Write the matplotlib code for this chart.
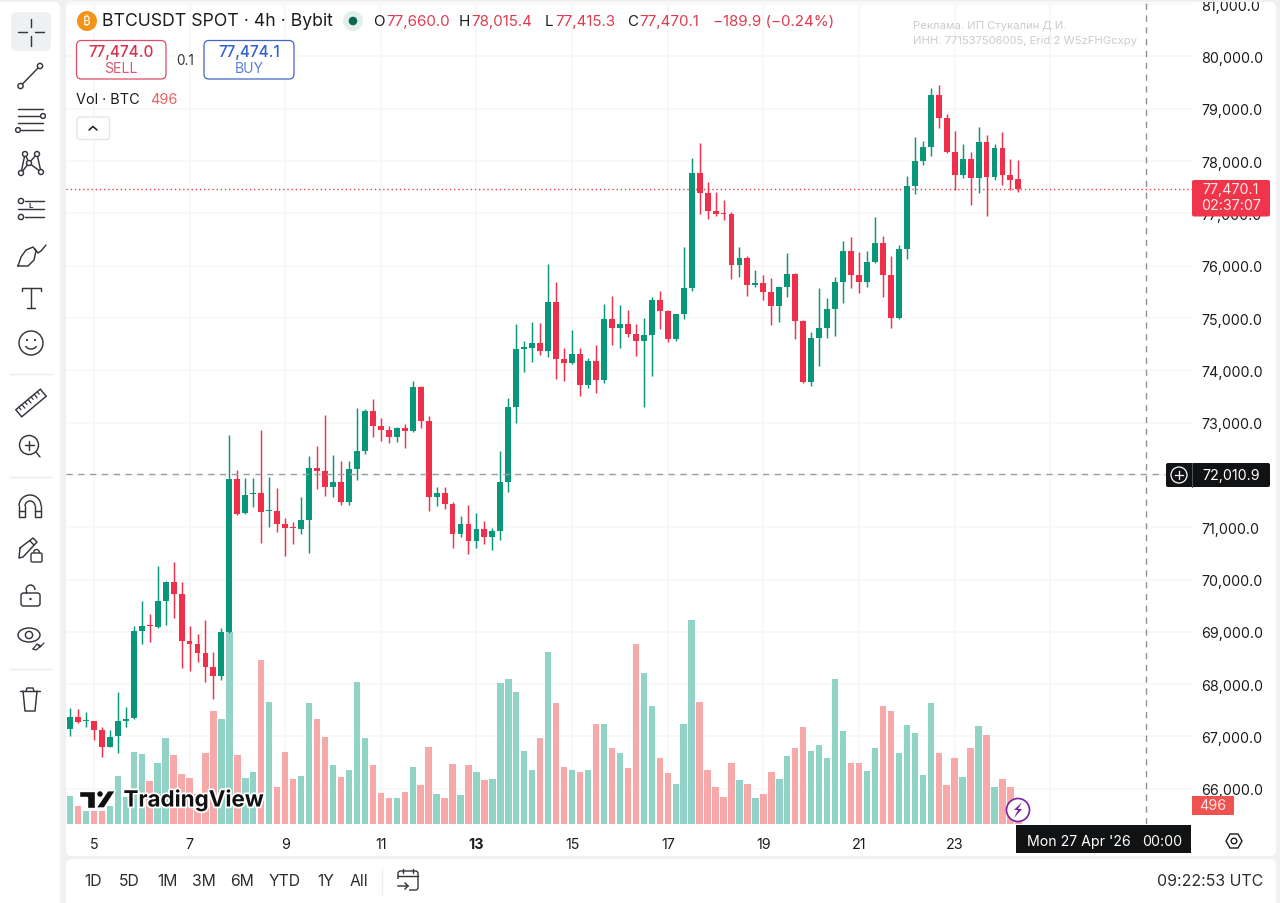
import numpy as np
import matplotlib
matplotlib.use('Agg')
import matplotlib.pyplot as plt
import matplotlib.patheffects as pe
from matplotlib.patches import Circle, Rectangle, FancyBboxPatch, Polygon, Arc, Ellipse

plt.rcParams['font.family'] = ['Inter', 'DejaVu Sans']

# 4h candles, BTCUSDT spot, oldest first
opens = [67144, 67373, 67290, 67290, 67131, 66806, 67004, 67290, 67348, 69023, 69125, 69094,
         69597, 69954, 69724, 68832, 68762, 68597, 68323, 68150, 68992, 71923, 71266, 71630,
         71661, 71305, 71305, 71056, 70999, 70967, 71133, 72127, 72069, 71770, 71859, 71477,
         72120, 72452, 73222, 72936, 72859, 72732, 72904, 72846, 73675, 73038, 71585, 71661,
         71445, 70871, 71062, 70737, 70967, 70807, 70922, 71865, 73299, 74401, 74433, 74529,
         74369, 75306, 74210, 74134, 74318, 73726, 74185, 73821, 74987, 74803, 74879, 74688,
         74560, 74682, 75344, 75134, 74599, 75077, 75574, 77766, 77390, 77045, 77001, 76982,
         76020, 76141, 75625, 75676, 75497, 75236, 75586, 75841, 74949, 73770, 74618, 74809,
         75178, 75688, 76274, 75822, 75695, 76064, 76427, 75822, 75000, 76313, 77518, 77996,
         78276, 79264, 78831, 78168, 77741, 78040, 77677, 78372, 77703, 78251, 77735, 77660.0]
highs = [67539, 67526, 67462, 67303, 67176, 67125, 67845, 67558, 69119, 69584, 69342, 70266,
         69970, 70330, 69960, 69106, 68960, 69234, 68609, 69074, 72764, 72101, 71942, 71942,
         72859, 71967, 71744, 71177, 71107, 71572, 72356, 72547, 73146, 72382, 72273, 72260,
         73280, 73261, 73452, 73082, 72929, 72920, 72974, 73802, 73694, 73120, 71763, 71763,
         71476, 71209, 71432, 71273, 71126, 70979, 72451, 73471, 74885, 74567, 74917, 74905,
         76032, 75695, 74427, 74777, 74420, 74229, 74490, 75274, 75414, 75242, 75159, 74879,
         74994, 75395, 75510, 75150, 75085, 76351, 78059, 78339, 77593, 77402, 77249, 77020,
         76364, 76192, 75911, 75822, 75765, 75600, 76236, 75855, 74960, 74739, 75567, 75382,
         75777, 76466, 76555, 76255, 76287, 76924, 76574, 76179, 76402, 77721, 78455, 78391,
         79391, 79455, 78901, 78569, 78327, 78168, 78646, 78499, 78327, 78563, 78040, 78015.4]
lows = [67004, 67258, 67176, 66933, 66602, 66790, 66685, 67176, 67330, 68769, 68800, 69068,
        69132, 69266, 68303, 68259, 68431, 68049, 67717, 68074, 68975, 71235, 71255, 71394,
        70699, 71005, 70903, 70444, 70680, 70865, 70515, 71732, 71598, 71585, 71426, 71432,
        71910, 72401, 72719, 72655, 72611, 72623, 72509, 72815, 72891, 71304, 71413, 71349,
        70597, 70807, 70489, 70597, 70674, 70559, 70756, 71668, 72999, 73962, 74165, 74299,
        74261, 73828, 73802, 74121, 73509, 73668, 73573, 73751, 74490, 74427, 74637, 74267,
        73292, 73891, 74784, 74535, 74567, 74987, 75523, 76982, 76893, 76944, 76873, 75746,
        75777, 75427, 75586, 75344, 74866, 74917, 75395, 74599, 73758, 73707, 74089, 74611,
        74662, 75280, 75574, 75478, 75599, 76050, 75395, 74809, 74981, 76128, 77371, 77932,
        78104, 78627, 78150, 77448, 77671, 77167, 77384, 76944, 77639, 77543, 77454, 77415.3]
closes = [67373, 67271, 67316, 67131, 66806, 66997, 67290, 67341, 69017, 69106, 69113, 69591,
          69954, 69731, 68832, 68762, 68597, 68323, 68150, 68992, 71923, 71260, 71623, 71655,
          71298, 71324, 71062, 70986, 70980, 71133, 72127, 72076, 71770, 71859, 71477, 72120,
          72452, 73229, 72942, 72859, 72732, 72904, 72846, 73675, 73038, 71585, 71661, 71445,
          70871, 71062, 70737, 70967, 70807, 70922, 71859, 73299, 74401, 74439, 74529, 74369,
          75306, 74210, 74134, 74318, 73726, 74185, 73821, 74987, 74803, 74879, 74688, 74560,
          74675, 75344, 75134, 74599, 75070, 75574, 77766, 77390, 77052, 76982, 76988, 76020,
          76141, 75637, 75676, 75497, 75236, 75586, 75841, 74949, 73770, 74618, 74809, 75178,
          75688, 76274, 75822, 75695, 76064, 76427, 75822, 75000, 76313, 77523, 77996, 78276,
          79264, 78831, 78168, 77741, 78040, 77677, 78372, 77703, 78251, 77741, 77645, 77470.1]
volumes = [740, 461, 348, 348, 348, 479, 1244, 696, 1871, 1818, 1122, 1601,
           2245, 1801, 1305, 1201, 783, 1844, 2941, 2741, 5003, 1810, 1201, 1349,
           4280, 3184, 957, 1871, 1166, 1262, 3167, 2741, 2271, 1549, 1235, 1418,
           3698, 2236, 1540, 800, 670, 679, 835, 1479, 1027, 2001, 783, 679,
           1566, 757, 1549, 1366, 1148, 1175, 3671, 3785, 3445, 1897, 1409, 2253,
           4481, 3167, 1488, 1418, 1366, 1401, 2619, 2619, 1992, 1844, 1462, 4698,
           3932, 3080, 1731, 1340, 1035, 2619, 5333, 3193, 1401, 966, 713, 1601,
           1148, 1053, 679, 783, 1349, 1166, 1766, 1992, 2540, 1905, 2071, 1723,
           3793, 2436, 1592, 1592, 1383, 1992, 3080, 2949, 1844, 2575, 2375, 1279,
           3158, 1862, 1018, 1731, 1218, 1984, 2558, 2314, 974, 1183, 957, 496]

# the tick at 25 sits under the time cursor, so it stays a gridline only
day_labels = ['5', '7', '9', '11', '13', '15', '17', '19', '21', '23', '']
day_positions = [3, 15, 27, 39, 51, 63, 75, 87, 99, 111, 123]
price_ticks = list(range(66000, 82000, 1000))

last_price = 77470.1
cross_price = 72010.9
cross_index = 135

range_buttons = ['1D', '5D', '1M', '3M', '6M', 'YTD', '1Y', 'All']
range_x = [93, 129, 167, 204, 242, 285, 326, 359]
ohlc_labels = ['O', 'H', 'L', 'C']
ohlc_values = ['77,660.0', '78,015.4', '77,415.3', '77,470.1']

GREEN = '#0a9678'
RED = '#f0304a'
GREEN_VOL = '#92d3c8'
RED_VOL = '#f7a8a8'
GRID = '#f6f7f8'
INK = '#1a1c20'
ICON = '#33363c'
SHELL = '#eff0f2'


def px_rect(x0, y0, x1, y1):
    return [x0 / 1280, 1 - y1 / 904, (x1 - x0) / 1280, (y1 - y0) / 904]


fig = plt.figure(figsize=(12.8, 9.04), dpi=100, facecolor=SHELL)

# white panels behind everything
bg = fig.add_axes([0, 0, 1, 1], zorder=0)
bg.set_xlim(0, 1280)
bg.set_ylim(904, 0)
bg.axis('off')


def panel(a, x0, y0, x1, y1, r, fc='white', ec='none', lw=1.0, z=1):
    a.add_patch(FancyBboxPatch((x0, y0), x1 - x0, y1 - y0, boxstyle=f'round,pad=0,rounding_size={r}',
                               fc=fc, ec=ec, lw=lw, zorder=z))


panel(bg, -10, 3, 60, 920, 6)
panel(bg, 66, 3, 1276, 857, 6)
panel(bg, 66, 860, 1276, 920, 6)

# chart area, index/price scales
chart_rect = px_rect(66, 4, 1192, 825)
xlim = (-0.5, 140.78)
ylim = (65327, 81022)

grid_ax = fig.add_axes(chart_rect, zorder=1, facecolor='none')
grid_ax.set_xlim(*xlim)
grid_ax.set_ylim(*ylim)
grid_ax.set_xticks(day_positions)
grid_ax.set_xticklabels(day_labels, fontsize=10.3, color=INK)
grid_ax.get_xticklabels()[4].set_fontweight('bold')
grid_ax.set_yticks(price_ticks)
# 72,000.0 is covered by the crosshair label
grid_ax.set_yticklabels(['' if p == 72000 else f'{p:,.1f}' for p in price_ticks], fontsize=10.3, color=INK)
grid_ax.yaxis.tick_right()
grid_ax.tick_params(axis='both', length=0)
grid_ax.tick_params(axis='x', pad=9.5)
grid_ax.tick_params(axis='y', pad=6.5)
grid_ax.grid(True, color=GRID, lw=1.1)
grid_ax.set_axisbelow(True)
for s in grid_ax.spines.values():
    s.set_visible(False)

idx = np.arange(len(closes))
o = np.array(opens)
h = np.array(highs)
l = np.array(lows)
c = np.array(closes)
up = c >= o

# volume pane shares the x scale, bars sit on the bottom edge
vol_ax = fig.add_axes(chart_rect, zorder=2, facecolor='none')
vol_ax.set_xlim(*xlim)
vol_ax.set_ylim(0, 21432)
vol_ax.axis('off')
vol_ax.bar(idx, volumes, width=0.8, color=[GREEN_VOL if u else RED_VOL for u in up], lw=0)

price_ax = fig.add_axes(chart_rect, zorder=3, facecolor='none')
price_ax.set_xlim(*xlim)
price_ax.set_ylim(*ylim)
price_ax.axis('off')
colors = [GREEN if u else RED for u in up]
price_ax.vlines(idx, l, h, colors=colors, lw=1.05, zorder=3)
price_ax.bar(idx, np.maximum(np.abs(c - o), 25), bottom=np.minimum(o, c), width=0.74, color=colors, lw=0, zorder=4)

price_ax.axhline(last_price, color='#e8404c', lw=1.0, ls=(0, (1, 2)), zorder=2)
price_ax.plot([xlim[0], cross_index + 2.4], [cross_price, cross_price], color='#9b9ea3', lw=1.0, ls=(0, (4.5, 4)), zorder=5)
price_ax.axvline(cross_index, color='#8e9196', lw=1.0, ls=(0, (4.5, 4)), zorder=5)

# overlay in pixel coordinates: legend, toolbars, price labels
ui = fig.add_axes([0, 0, 1, 1], zorder=5, facecolor='none')
ui.set_xlim(0, 1280)
ui.set_ylim(904, 0)
ui.axis('off')


def line(xs, ys, color=ICON, lw=1.05):
    ui.plot(xs, ys, color=color, lw=lw, solid_capstyle='round', solid_joinstyle='round', zorder=6)


def ring(x, y, r, fc='white', ec=ICON, lw=1.05):
    ui.add_patch(Circle((x, y), r, fc=fc, ec=ec, lw=lw, zorder=5.5))


def label(x, y, s, size=10.3, color=INK, ha='left', **kw):
    ui.text(x, y, s, fontsize=size, color=color, ha=ha, va='center', zorder=9, **kw)


ui.add_patch(Rectangle((0, 0), 1280, 3, fc=SHELL, ec='none', zorder=8))

# symbol header
ui.add_patch(Circle((87, 22), 10, fc='#f2931a', ec='none', zorder=6))
label(87, 22, '₿', size=9.5, color='white', ha='center',
      family=['Noto Sans', 'Roboto', 'Open Sans', 'Lato', 'Liberation Sans', 'DejaVu Sans'], fontweight='bold')
label(102, 22, 'BTCUSDT SPOT · 4h · Bybit', size=12.7)
ui.add_patch(Circle((353, 22), 10, fc='#e2efec', ec='none', zorder=6))
ui.add_patch(Circle((353, 22), 4.3, fc='#07694f', ec='none', zorder=7))
for lx, vx, name, val in zip([373, 459, 545, 627], [386.5, 471, 555, 639], ohlc_labels, ohlc_values):
    label(lx, 22, name, size=10.9)
    label(vx, 22, val, size=10.9, color='#e3394f')
label(713, 22, '−189.9 (−0.24%)', size=10.9, color='#e3394f')

# order buttons
panel(ui, 76.5, 41.5, 166, 80, 5, fc='white', ec='#df4a66', lw=0.9, z=6)
panel(ui, 204, 41.5, 294, 80, 5, fc='white', ec='#3f66c6', lw=0.9, z=6)
label(121, 53, '77,474.0', size=11, color='#d9304f', ha='center', fontweight='medium')
label(121, 69, 'SELL', size=10.2, color='#e0566f', ha='center')
label(185, 61, '0.1', size=9.8, ha='center', color='#33363c')
label(249, 53, '77,474.1', size=11, color='#2f5fd0', ha='center', fontweight='medium')
label(249, 69, 'BUY', size=10, color='#5a7fd6', ha='center')
label(76, 100, 'Vol · BTC', size=10.4)
label(150, 100, '496', size=10.4, color='#ef5f60')
panel(ui, 77, 118, 109.5, 140.5, 3, fc='white', ec='#e0e3e8', lw=0.9, z=6)
line([89, 93, 97], [131, 127.5, 131], color=INK, lw=1.1)

# ad notice
label(913, 26, 'Реклама. ИП Стукалин Д.И.', size=8.1, color='#cbcccf')
label(913, 40.5, 'ИНН: 771537506005, Erid:2 W5zFHGcxpy', size=8.1, color='#cbcccf')

# price scale labels
panel(ui, 1192, 181, 1270, 217.5, 2, fc='#f0354a', z=7)
label(1231, 190, '77,470.1', size=10.3, color='#ffe9ea', ha='center')
label(1231, 206.5, '02:37:07', size=10.3, color='#ffe9ea', ha='center')
panel(ui, 1166, 464, 1270, 488, 2, fc='#111214', z=7)
ui.plot([1192, 1192], [464, 488], color='#55575b', lw=0.7, zorder=8)
ui.add_patch(Circle((1179, 476), 8, fc='none', ec='white', lw=0.9, zorder=8))
ui.plot([1175, 1183], [476, 476], color='white', lw=0.9, zorder=8)
ui.plot([1179, 1179], [472, 480], color='white', lw=0.9, zorder=8)
label(1231, 476, f'{cross_price:,.1f}', size=10.3, color='white', ha='center')
ui.add_patch(Rectangle((1192, 797), 42, 19, fc='#ef5350', ec='none', zorder=7))
label(1213, 806.5, '496', size=10.3, color='#ffe4e4', ha='center')

# time scale cursor
ui.add_patch(Rectangle((1016, 826), 175, 28, fc='#111214', ec='none', zorder=7))
label(1027, 842, "Mon 27 Apr '26", size=10.2, color='white')
label(1142, 842, '00:00', size=10.2, color='white')
ui.add_patch(Polygon([(1226, 842), (1230, 835), (1238, 835), (1242, 842), (1238, 849), (1230, 849)],
                     closed=True, fc='none', ec=INK, lw=1.0, zorder=7))
ring(1234, 842, 2.8, ec=INK, lw=1.0)

# lightning badge
ui.add_patch(Circle((1018, 811), 11.5, fc='white', ec='#7a1fa2', lw=1.2, zorder=7))
ui.add_patch(Polygon([(1022, 803), (1014, 811), (1018, 811), (1014, 819), (1022, 810), (1018, 810)],
                     closed=True, fc='#7a1fa2', ec='none', zorder=8))

# watermark
logo_black = '#111111'
halo = [pe.withStroke(linewidth=2.6, foreground='white')]
for pts in ([(79.3, 791.7), (95.3, 791.7), (95.3, 809), (86.7, 809), (86.7, 798.3), (79.3, 798.3)],
            [(107.7, 791.7), (115.5, 791.7), (104.3, 809), (96, 809)]):
    ui.add_patch(Polygon(pts, closed=True, fc=logo_black, ec='white', lw=1.0, zorder=8))
ui.add_patch(Circle((100, 795), 3.3, fc=logo_black, ec='white', lw=0.8, zorder=8))
ui.text(123.5, 801, 'TradingView', fontsize=16.1, color=logo_black, fontweight='bold', ha='left', va='center',
        zorder=9, path_effects=halo)

# range buttons along the bottom
for x, name in zip(range_x, range_buttons):
    label(x, 882, name, size=11.3, ha='center', color='#2a2c30')
line([382, 382], [870, 895], color='#eceef0')
panel(ui, 398, 872, 418, 891, 2.5, fc='none', ec=ICON, lw=1.0, z=6)
ui.add_patch(Rectangle((395, 880), 14, 14, fc='white', ec='none', zorder=6.5))
line([398, 418], [877, 877])
line([403, 403], [870, 874])
line([413, 413], [870, 874])
ui.plot([398, 408, 405], [887, 887, 884], color=ICON, lw=1.05, zorder=7)
ui.plot([408, 405], [887, 890], color=ICON, lw=1.05, zorder=7)
label(1263, 882, '09:22:53 UTC', size=11.4, ha='right', color='#2a2c30')

# drawing toolbar
panel(ui, 11, 13, 51, 52, 6, fc='#eff0f2', z=5)
for xs, ys in (([17.7, 26.7], [33, 33]), ([35, 44], [33, 33]), ([30.7, 30.7], [20, 28.3]), ([30.7, 30.7], [37, 46.7])):
    line(xs, ys)

line([20.5, 40], [87, 67])
ui.add_patch(Circle((20.5, 87), 2.6, fc='white', ec=ICON, lw=1.05, zorder=7))
ui.add_patch(Circle((40, 67), 2.6, fc='white', ec=ICON, lw=1.05, zorder=7))

line([18, 43], [110, 110])
line([18, 40], [117, 117])
line([18, 43], [124, 124])
line([21, 43], [131, 131])
ui.add_patch(Circle((43, 117), 2.4, fc='white', ec=ICON, lw=1.05, zorder=7))
ui.add_patch(Circle((18, 131), 2.4, fc='white', ec=ICON, lw=1.05, zorder=7))

node_x = [21, 25, 29, 37, 41]
node_y = [174, 155, 164, 155, 173]
line(node_x, node_y)
line([21, 29, 41], [174, 164, 173])
for nx, ny in zip(node_x, node_y):
    ui.add_patch(Circle((nx, ny), 2.5, fc='white', ec=ICON, lw=1.05, zorder=7))

line([25, 44], [202, 202])
line([18, 44], [210, 210])
line([25, 44], [218, 218])
ui.add_patch(Circle((21, 202), 2.6, fc='white', ec=ICON, lw=1.05, zorder=7))
ui.add_patch(Circle((21, 218), 2.6, fc='white', ec=ICON, lw=1.05, zorder=7))
label(31, 206, 'L', size=5.6, ha='center', fontweight='bold', color=ICON)

leaf_x = [18, 21, 26, 33, 36, 34, 28, 18]
leaf_y = [267, 258, 251, 248, 252, 261, 267, 267]
line(leaf_x, leaf_y)
line([35, 38, 41, 46], [250, 254, 252, 246])

line([22, 22, 41, 41], [292, 289, 289, 292])
line([31, 31], [289, 309])
line([27, 35], [309, 309])

ring(31, 344, 12)
ui.add_patch(Circle((27, 341), 1.1, fc=ICON, zorder=8))
ui.add_patch(Circle((35, 341), 1.1, fc=ICON, zorder=8))
ui.add_patch(Arc((31, 345), 12, 10, theta1=20, theta2=160, ec=ICON, lw=1.05, zorder=8))

for sy in (375, 478, 670):
    line([10, 52], [sy, sy], color='#eaecee')

ruler_t = np.radians(-40)
ruler_u = np.array([np.cos(ruler_t), np.sin(ruler_t)])
ruler_v = np.array([-ruler_u[1], ruler_u[0]])
ruler_c = np.array([31, 404])
ruler = [ruler_c + a * 16 * ruler_u + b * 4.6 * ruler_v for a, b in ((-1, -1), (1, -1), (1, 1), (-1, 1))]
ui.add_patch(Polygon(ruler, closed=True, fc='none', ec=ICON, lw=1.05, zorder=6))
for k in range(-3, 4):
    p0 = ruler_c + k * 4 * ruler_u - 4.6 * ruler_v
    p1 = p0 + (3.2 if k % 2 else 4.6) * ruler_v
    line([p0[0], p1[0]], [p0[1], p1[1]], lw=0.9)

ring(29, 446, 9.5)
line([24.5, 33.5], [446, 446])
line([29, 29], [441.5, 450.5])
line([36, 40], [453, 458])

ui.add_patch(Arc((30, 507), 22, 22, theta1=180, theta2=360, ec=ICON, lw=1.05, zorder=6))
ui.add_patch(Arc((30, 507), 10, 10, theta1=180, theta2=360, ec=ICON, lw=1.05, zorder=6))
line([19, 19, 25, 25], [507, 518, 518, 507])
line([35, 35, 41, 41], [507, 518, 518, 507])
line([19, 25], [512, 512])
line([35, 41], [512, 512])

line([20, 19, 23, 37, 33, 20], [549, 559, 558, 543, 539, 549])
line([30, 34], [542, 546])
panel(ui, 31, 554, 42, 563, 1.5, fc='white', ec=ICON, lw=1.0, z=7)
ui.add_patch(Arc((36.5, 554), 6, 7, theta1=180, theta2=360, ec=ICON, lw=1.0, zorder=7))

# open shackle: the right leg stops short of the lock body
panel(ui, 21, 594, 40, 607, 2.5, fc='white', ec=ICON, lw=1.05, z=6)
ui.add_patch(Arc((30.5, 591), 9, 10, theta1=180, theta2=360, ec=ICON, lw=1.05, zorder=6))
line([26, 26], [591, 594])
ui.add_patch(Circle((30.5, 600), 1.2, fc=ICON, zorder=8))

ui.add_patch(Ellipse((29, 636), 22, 14, fc='none', ec=ICON, lw=1.05, zorder=6))
ring(29, 636, 3.6)
line([33, 37, 41, 36, 33], [650, 645, 647, 651, 650], lw=0.9)
line([38, 40, 44], [646, 648, 644], lw=0.9)

line([20, 40], [692, 692])
line([26, 27, 33, 34], [692, 689, 689, 692])
line([23, 25, 35, 37], [692, 712, 712, 692])

fig.savefig('out.png', dpi=100, facecolor=fig.get_facecolor())
